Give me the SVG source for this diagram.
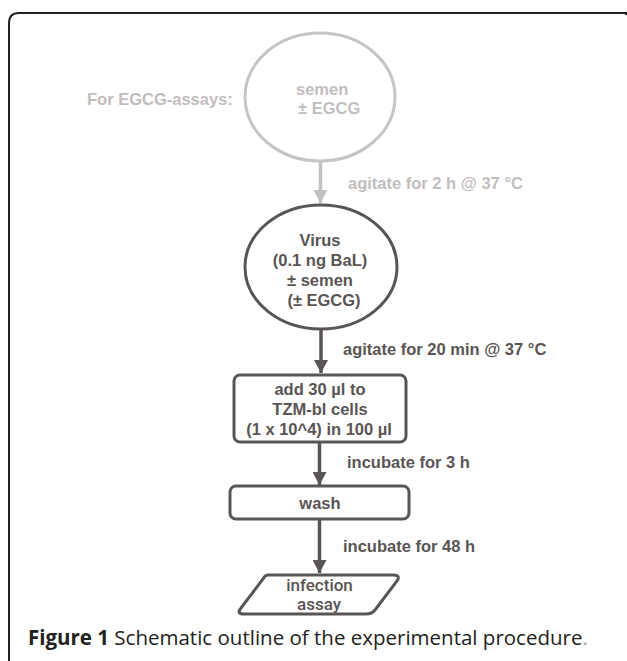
<svg xmlns="http://www.w3.org/2000/svg" width="627" height="661" viewBox="0 0 627 661">
<defs>
<style>
.lbl{font-family:"Liberation Sans",Arial,sans-serif;font-weight:bold;font-size:16.5px}
.dark{fill:#5a5555}
.light{fill:#c2bebe}
.dshape{fill:none;stroke:#5a5555;stroke-width:3}
.lshape{fill:none;stroke:#c8c4c4;stroke-width:3}
.dline{stroke:#5a5555;stroke-width:3.5}
.lline{stroke:#c4c0c0;stroke-width:3.5}
.cap{font-family:"Open Sans","Noto Sans",sans-serif;font-size:20.5px;fill:#222}
</style>
<marker id="ahd" markerUnits="userSpaceOnUse" markerWidth="14" markerHeight="14" viewBox="0 0 12 13" refX="12" refY="6.5" orient="auto"><path d="M0,0 L12,6.5 L0,13 Z" fill="#5a5555"/></marker>
<marker id="ahl" markerUnits="userSpaceOnUse" markerWidth="14" markerHeight="14" viewBox="0 0 12 13" refX="12" refY="6.5" orient="auto"><path d="M0,0 L12,6.5 L0,13 Z" fill="#c4c0c0"/></marker>
</defs>
<rect width="627" height="661" fill="#fff"/>
<path d="M9 661 V23 Q9 13 19 13 H626 V15" fill="none" stroke="#222" stroke-width="2"/>

<g id="connectors">
<line class="lline" x1="320.5" y1="162" x2="320.5" y2="203" marker-end="url(#ahl)"/>
<line class="dline" x1="321" y1="329" x2="321" y2="373" marker-end="url(#ahd)"/>
<line class="dline" x1="319.5" y1="443" x2="319.5" y2="485" marker-end="url(#ahd)"/>
<line class="dline" x1="319.5" y1="520" x2="319.5" y2="573" marker-end="url(#ahd)"/>
<text class="lbl light" x="348" y="189">agitate for 2 h @ 37 °C</text>
<text class="lbl dark" x="343" y="355">agitate for 20 min @ 37 °C</text>
<text class="lbl dark" x="347" y="468">incubate for 3 h</text>
<text class="lbl dark" x="343" y="552">incubate for 48 h</text>
</g>

<g id="egcg-label">
<text class="lbl light" x="87" y="105" font-size="17">For EGCG-assays:</text>
</g>

<g id="semen">
<ellipse class="lshape" cx="320" cy="97" rx="75" ry="64"/>
<text class="lbl light" x="296" y="95">semen</text>
<text class="lbl light" x="298" y="114">± EGCG</text>
</g>

<g id="virus">
<ellipse class="dshape" cx="321" cy="267" rx="76" ry="62"/>
<text class="lbl dark" text-anchor="middle" x="320" y="246">Virus</text>
<text class="lbl dark" text-anchor="middle" x="320" y="266">(0.1 ng BaL)</text>
<text class="lbl dark" text-anchor="middle" x="320" y="286">± semen</text>
<text class="lbl dark" text-anchor="middle" x="324" y="306">(± EGCG)</text>
</g>

<g id="add-cells">
<rect class="dshape" x="234" y="375" width="172" height="67" rx="6"/>
<text class="lbl dark" text-anchor="middle" x="320" y="395">add 30 µl to</text>
<text class="lbl dark" text-anchor="middle" x="320" y="415">TZM-bl cells</text>
<text class="lbl dark" text-anchor="middle" x="319" y="435">(1 x 10^4) in 100 µl</text>
</g>

<g id="wash">
<rect class="dshape" x="230" y="486" width="179" height="33" rx="6"/>
<text class="lbl dark" text-anchor="middle" x="320" y="509">wash</text>
</g>

<g id="infection-assay">
<path class="dshape" d="M268 575 H393 Q401 575 397 581 L375 610 Q372 614 366 614 H244 Q236 614 241 608 L263 579 Q265 575 268 575 Z"/>
<text font-family="Roboto,'Liberation Sans',sans-serif" font-weight="500" font-size="17" fill="#5a5555" text-anchor="middle" x="319.5" y="591">infection</text>
<text font-family="Roboto,'Liberation Sans',sans-serif" font-weight="500" font-size="17" fill="#5a5555" text-anchor="middle" x="319" y="610">assay</text>
</g>

<g id="caption">
<text class="cap" x="28" y="645"><tspan font-weight="bold">Figure 1</tspan> Schematic outline of the experimental procedure<tspan fill="#999">.</tspan></text>
</g>
</svg>
